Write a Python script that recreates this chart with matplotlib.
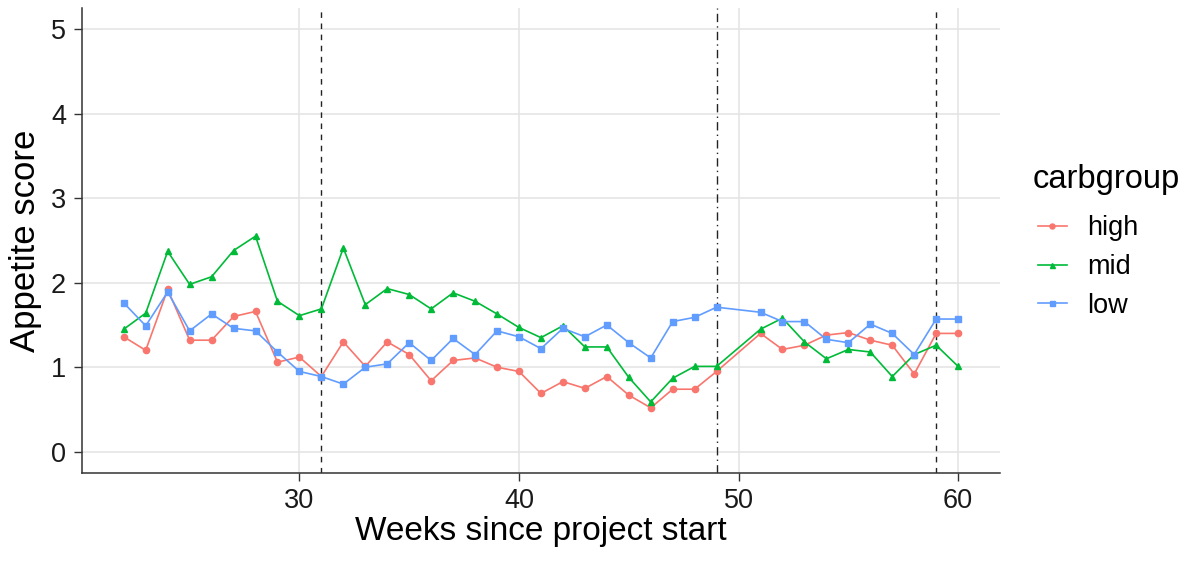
import matplotlib.pyplot as plt
import numpy as np

plt.rcParams['font.family'] = ['Liberation Sans', 'DejaVu Sans']

# Weeks since project start (week 50 has no data)
weeks = [22, 23, 24, 25, 26, 27, 28, 29, 30, 31, 32, 33, 34, 35, 36, 37, 38, 39, 40,
         41, 42, 43, 44, 45, 46, 47, 48, 49, 51, 52, 53, 54, 55, 56, 57, 58, 59, 60]

high = [1.36, 1.20, 1.92, 1.32, 1.32, 1.60, 1.66, 1.06, 1.12, 0.89, 1.30, 1.01, 1.30,
        1.15, 0.84, 1.08, 1.11, 1.00, 0.95, 0.69, 0.83, 0.75, 0.89, 0.67, 0.52, 0.74,
        0.74, 0.95, 1.40, 1.21, 1.26, 1.38, 1.41, 1.32, 1.26, 0.92, 1.40, 1.40]
mid = [1.45, 1.64, 2.37, 1.98, 2.07, 2.38, 2.55, 1.78, 1.61, 1.69, 2.41, 1.74, 1.93,
       1.86, 1.69, 1.88, 1.78, 1.63, 1.47, 1.35, 1.49, 1.24, 1.24, 0.88, 0.59, 0.87,
       1.01, 1.01, 1.45, 1.58, 1.30, 1.10, 1.21, 1.18, 0.89, 1.15, 1.26, 1.01]
low = [1.76, 1.49, 1.89, 1.43, 1.63, 1.46, 1.43, 1.18, 0.95, 0.89, 0.80, 1.00, 1.04,
       1.29, 1.08, 1.34, 1.15, 1.43, 1.36, 1.22, 1.46, 1.36, 1.50, 1.29, 1.11, 1.54,
       1.59, 1.71, 1.65, 1.54, 1.54, 1.33, 1.29, 1.51, 1.40, 1.15, 1.57, 1.57]

groups = ['high', 'mid', 'low']
colors = ['#F8766D', '#00BA38', '#619CFF']
markers = ['o', '^', 's']

# reference lines
dashed_weeks = [31, 59]
dotdash_weeks = [49]

fig = plt.figure(figsize=(11.96, 5.63), dpi=100)
ax = fig.add_axes([0.0686, 0.16, 0.7674, 0.826])

x = np.array(weeks)
for name, vals, col, mk in zip(groups, [high, mid, low], colors, markers):
    ax.plot(x, vals, color=col, marker=mk, markersize=4.5, linewidth=1.2,
            label=name, zorder=3)

for w in dashed_weeks:
    ax.axvline(w, color='#222222', linestyle=(0, (4, 4)), linewidth=1.0, zorder=2)
for w in dotdash_weeks:
    ax.axvline(w, color='#222222', linestyle=(0, (6, 3, 1, 3)), linewidth=1.0, zorder=2)

ax.set_xlim(20.1, 61.9)
ax.set_ylim(-0.25, 5.25)
ax.set_xticks([30, 40, 50, 60])
ax.set_yticks([0, 1, 2, 3, 4, 5])
ax.grid(True, color='#e3e3e3', linewidth=1.1, zorder=0)
ax.set_axisbelow(True)

for s in ['top', 'right']:
    ax.spines[s].set_visible(False)
for s in ['left', 'bottom']:
    ax.spines[s].set_color('#333333')
    ax.spines[s].set_linewidth(1.1)
ax.tick_params(axis='both', colors='#333333', labelcolor='#1a1a1a',
               labelsize=19.5, length=5.5, width=1.0)
ax.tick_params(axis='x', pad=5)
ax.tick_params(axis='y', pad=6)

ax.set_xlabel('Weeks since project start', fontsize=24, color='black', labelpad=2)
ax.set_ylabel('Appetite score', fontsize=25, color='black', labelpad=6)

# legend: title placed separately so its gap to the keys can be matched
fig.text(1033 / 1196, 1 - 188 / 563, 'carbgroup', fontsize=23.5,
         ha='left', va='baseline')
leg = fig.legend(loc='center left', bbox_to_anchor=(1038 / 1196, 1 - 267 / 563),
                 frameon=False, fontsize=19.5, handlelength=1.07,
                 handletextpad=0.75, labelspacing=0.47, markerscale=0.8,
                 borderpad=0, borderaxespad=0)

fig.savefig('out.png', dpi=100)
